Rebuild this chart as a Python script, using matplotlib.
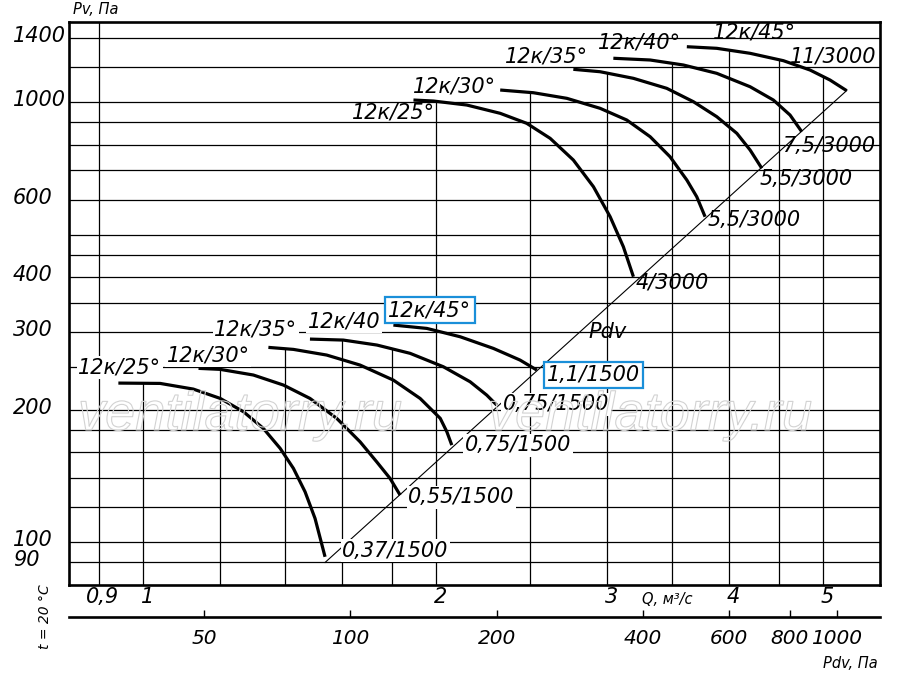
import numpy as np
import matplotlib
matplotlib.use("Agg")
import matplotlib.pyplot as plt
import matplotlib.patheffects as pe
from matplotlib.transforms import blended_transform_factory

plt.rcParams['font.family'] = ['DejaVu Sans']
plt.rcParams['font.style'] = 'italic'

# fan curves 12k, 1500 rpm  (Q, m3/s ; Pv, Pa)
q_1500_25 = [0.943, 1.041, 1.126, 1.200, 1.268, 1.329, 1.383, 1.427, 1.467, 1.502, 1.538]
pv_1500_25 = [229.8, 229.4, 222.7, 212.1, 197.8, 181.3, 163.3, 147.1, 130.1, 113.2, 92.6]
q_1500_30 = [1.140, 1.200, 1.298, 1.394, 1.484, 1.581, 1.671, 1.738, 1.794, 1.837]
pv_1500_30 = [248.2, 246.9, 239.7, 227.4, 212.1, 191.1, 169.0, 152.2, 139.5, 127.9]
q_1500_35 = [1.345, 1.427, 1.544, 1.671, 1.808, 1.926, 2.020, 2.052, 2.076]
pv_1500_35 = [277.0, 274.1, 266.1, 252.5, 233.4, 212.1, 191.1, 178.1, 166.1]
q_1500_40 = [1.484, 1.606, 1.739, 1.881, 2.035, 2.168, 2.255, 2.309]
pv_1500_40 = [289.3, 287.8, 280.4, 268.5, 250.3, 231.4, 215.8, 204.8]
q_1500_45 = [1.808, 1.957, 2.118, 2.291, 2.440, 2.539]
pv_1500_45 = [311.3, 305.9, 292.8, 275.5, 259.2, 246.0]

# fan curves 12k, 3000 rpm
q_3000_25 = [1.896, 1.988, 2.151, 2.328, 2.479, 2.620, 2.768, 2.903, 3.020, 3.116, 3.191]
pv_3000_25 = [1010.5, 1005.2, 984.4, 942.6, 894.5, 827.1, 738.3, 642.0, 548.7, 469.0, 400.9]
q_3000_30 = [2.328, 2.518, 2.726, 2.949, 3.141, 3.320, 3.480, 3.621, 3.707, 3.781]
pv_3000_30 = [1064.8, 1049.9, 1019.5, 967.6, 910.2, 834.0, 751.0, 664.9, 609.2, 548.7]
q_3000_35 = [2.768, 2.949, 3.191, 3.453, 3.678, 3.887, 4.076, 4.206, 4.324]
pv_3000_35 = [1186.7, 1171.8, 1132.0, 1074.3, 1001.6, 926.1, 848.9, 778.0, 706.9]
q_3000_40 = [3.043, 3.320, 3.592, 3.887, 4.206, 4.444, 4.623, 4.753]
pv_3000_40 = [1257.3, 1245.9, 1213.7, 1162.0, 1083.3, 1010.5, 934.2, 856.1]
q_3000_45 = [3.621, 3.887, 4.206, 4.551, 4.847, 5.082, 5.287]
pv_3000_45 = [1335.6, 1324.5, 1290.3, 1241.4, 1182.3, 1122.0, 1060.9]

start_labels = ["12к/25°", "12к/30°", "12к/35°", "12к/40", "12к/45°",
                "12к/25°", "12к/30°", "12к/35°", "12к/40°", "12к/45°"]
end_labels = ["0,37/1500", "0,55/1500", "0,75/1500", "0,75/1500", "1,1/1500",
              "4/3000", "5,5/3000", "5,5/3000", "7,5/3000", "11/3000"]

# dynamic pressure Pdv = K * Q^2 (line on the chart / scale under it)
K_LINE = 38.0
K_AXIS = 37.5

grid_q = [0.9, 1, 1.2, 1.4, 1.6, 1.8, 2, 2.5, 3, 3.5, 4, 4.5, 5]
grid_pv = [90, 100, 120, 140, 160, 180, 200, 250, 300, 350, 400, 450,
           500, 600, 700, 800, 900, 1000, 1200, 1400]
pv_ticks = [90, 100, 200, 300, 400, 600, 1000, 1400]
q_ticks = [0.9, 1, 2, 3, 4, 5]
q_tick_labels = ["0,9", "1", "2", "3", "4", "5"]
pdv_ticks = [50, 100, 200, 400, 600, 800, 1000]

curves = [(q_1500_25, pv_1500_25), (q_1500_30, pv_1500_30), (q_1500_35, pv_1500_35),
          (q_1500_40, pv_1500_40), (q_1500_45, pv_1500_45),
          (q_3000_25, pv_3000_25), (q_3000_30, pv_3000_30), (q_3000_35, pv_3000_35),
          (q_3000_40, pv_3000_40), (q_3000_45, pv_3000_45)]

# label placement (pixels, left edge / vertical centre relative to curve end)
start_off = [(-40, 16), (-32, 13), (-54, 18), (-2, 18), (-5, 15),
             (-61, -12), (-87, 4), (-68, 13), (-15, 16), (26, 14)]
end_off = [(17, 6), (8, -2), (13, 0), (6, 1), (10, -5),
           (2, -6), (2, -3), (-2, -11), (-20, -14), (-57, 34)]
BLUE = "#1a8fd9"
white_box = dict(facecolor="white", edgecolor="none", pad=1.0)
blue_box = dict(facecolor="white", edgecolor=BLUE, linewidth=1.6, boxstyle="square,pad=0.15")

XLIM = (0.839, 5.72)
YLIM = (79.9, 1520)

fig = plt.figure(figsize=(9, 6.73), dpi=100)
ax = fig.add_axes([69 / 900, 1 - 585 / 673, 811 / 900, 563 / 673])
ax.set_xscale("log")
ax.set_yscale("log")
ax.set_xlim(*XLIM)
ax.set_ylim(*YLIM)
ax.set_xticks([])
ax.set_yticks([])
ax.set_xticks([], minor=True)
ax.set_yticks([], minor=True)
for sp in ax.spines.values():
    sp.set_linewidth(1.9)


def envelope(q):
    """Top of a vertical grid line: the highest curve above that Q."""
    tops = []
    for qs, ps in curves:
        if qs[0] <= q <= qs[-1]:
            tops.append(10 ** np.interp(np.log10(q), np.log10(qs), np.log10(ps)))
    return max(tops) if tops else YLIM[1]


# grid
ax.hlines(grid_pv, XLIM[0], XLIM[1], color="black", lw=0.9, zorder=1)
for q in grid_q:
    ax.vlines(q, YLIM[0], envelope(q), color="black", lw=0.9, zorder=1)

# Pdv line through the curve ends
q_ends = [c[0][-1] for c in curves]
q_diag = np.array([min(q_ends), max(q_ends)])
ax.plot(q_diag, K_LINE * q_diag ** 2, color="black", lw=0.8, zorder=2)
ax.text(3.0, 300, "Pdv", fontsize=15, ha="center", va="center")

# curves and labels
for i, (qs, ps) in enumerate(curves):
    ax.plot(qs, ps, color="black", lw=2.3, solid_capstyle="butt",
            solid_joinstyle="round", zorder=3)
    sbox = None
    ebox = None
    if i < 5:
        sbox = white_box
        ebox = white_box
    if i == 4:
        sbox = blue_box
        ebox = blue_box
    ax.annotate(start_labels[i], xy=(qs[0], ps[0]), xytext=start_off[i],
                textcoords="offset pixels", ha="left", va="center",
                fontsize=15, bbox=sbox, zorder=4)
    ax.annotate(end_labels[i], xy=(qs[-1], ps[-1]), xytext=end_off[i],
                textcoords="offset pixels", ha="left", va="center",
                fontsize=15, bbox=ebox, zorder=4)

# y labels, left aligned at figure edge
ytrans = blended_transform_factory(fig.transFigure, ax.transData)
for v in pv_ticks:
    ax.text(13 / 900, v * 1.01, str(v), transform=ytrans, ha="left",
            va="center", fontsize=15)
fig.text(73 / 900, 1 - 9 / 673, "Pv, Па", fontsize=10.5, ha="left", va="center")

# Q labels
xtrans = blended_transform_factory(ax.transData, ax.transAxes)
for q, lab in zip(q_ticks, q_tick_labels):
    ax.text(q * 1.01, -0.022, lab, transform=xtrans, ha="center", va="center",
            fontsize=15)
fig.text(667 / 900, 1 - 599 / 673, "Q, м³/с", fontsize=10.5, ha="center", va="center")

# Pdv axis
sec = ax.secondary_xaxis(-32 / 563, functions=(lambda q: K_AXIS * q ** 2,
                                                lambda p: np.sqrt(np.maximum(p, 1e-9) / K_AXIS)))
sec.set_xticks(pdv_ticks, [str(p) for p in pdv_ticks])
sec.set_xticks([], minor=True)
sec.tick_params(direction="in", length=5, width=1, labelsize=14.5, pad=9)
sec.spines["bottom"].set_linewidth(1.9)
fig.text(850 / 900, 1 - 663 / 673, "Pdv, Па", fontsize=10.5, ha="center", va="center")

fig.text(45 / 900, 1 - 617 / 673, "t = 20 °C", fontsize=10, rotation=90,
         ha="center", va="center")

# watermark
for x0 in (78, 488):
    fig.text(x0 / 900, 1 - 430 / 673, "ventilatorry.ru", fontsize=39,
             family="Liberation Sans", color=(1, 1, 1, 0), ha="left", va="baseline",
             path_effects=[pe.Stroke(linewidth=0.8, foreground="#d2d2d2")])

fig.savefig("out.png", dpi=100)
